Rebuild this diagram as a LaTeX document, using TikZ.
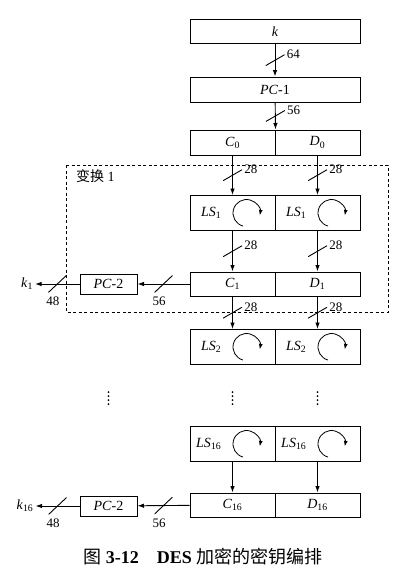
\documentclass[tikz,border=0pt]{standalone}
\usepackage{fontspec}
\setmainfont{Liberation Serif}
\newfontfamily\cjk{Noto Sans CJK SC}
\usetikzlibrary{arrows.meta,calc}

\newcommand{\isub}[2]{\textit{#1}\textsubscript{#2}}

\tikzset{
  blk/.style={draw,line width=1pt,inner sep=0pt,font=\fontsize{14}{16}\selectfont},
  wide/.style={blk,minimum width=170pt,minimum height=24pt},
  half/.style={blk,minimum width=85pt,minimum height=24pt},
  lsbox/.style={half,minimum height=35pt},
  pcbox/.style={blk,minimum width=57pt,minimum height=20pt},
  flow/.style={line width=0.9pt,-{Latex[length=6.5pt,width=4.5pt]}},
  num/.style={font=\fontsize{13}{15}\selectfont,inner sep=1.5pt},
  cut/.style={inner sep=0pt,
    path picture={\draw[-,line width=0.9pt] (path picture bounding box.south west) -- (path picture bounding box.north east);}},
  vcut/.style={cut,minimum width=19pt,minimum height=11pt,
    label={[num,anchor=west]north east:#1}},
  hcut/.style={cut,minimum width=18pt,minimum height=17pt,
    label={[num,anchor=north,xshift=5pt,yshift=-2pt]south west:#1}},
  spin/.style={line width=0.8pt,-{Latex[length=5.5pt,width=4pt]}},
  frame/.style={line width=0.9pt,dash pattern=on 3pt off 2.5pt}
}

\begin{document}
\begin{tikzpicture}[x=1pt,y=1pt]
  \useasboundingbox (0,0) rectangle (404,-581);

  % round 1 frame
  \draw[frame] (66,-165) rectangle (388,-312);
  \node[anchor=west,inner sep=0pt,font=\fontsize{14}{16}\selectfont] (round1) at (76,-176) {{\cjk 变换} 1};

  % key and PC-1
  \node[wide] (k) at (275,-31.5) {\textit{k}};
  \node[wide,minimum height=25pt] (pc1) at (275,-89.5) {\textit{PC}-1};
  \node[half,minimum height=25pt] (c0) at (232.5,-142.5) {\isub{C}{0}};
  \node[half,minimum height=25pt] (d0) at (317.5,-142.5) {\isub{D}{0}};

  % left shifts
  \foreach \row/\y/\s in {ls1/213/1,ls2/347/2,ls16/444/16}{
    \node[lsbox] (\row c) at (232.5,-\y) {};
    \node[lsbox] (\row d) at (317.5,-\y) {};
    \foreach \h in {c,d}{
      \node[anchor=east,inner sep=0pt,font=\fontsize{14}{16}\selectfont] (\row\h t) at ($(\row\h.west)+(32,0)$) {\isub{LS}{\s}};
      \draw[spin] ($(\row\h.west)+(57,0)+(255:13.5)$) arc[start angle=255,end angle=-10,radius=13.5];
    }
  }

  % C, D halves
  \node[half] (c1) at (232.5,-284) {\isub{C}{1}};
  \node[half] (d1) at (317.5,-284) {\isub{D}{1}};
  \node[half] (c16) at (232.5,-505) {\isub{C}{16}};
  \node[half] (d16) at (317.5,-505) {\isub{D}{16}};

  % PC-2 and subkeys
  \node[pcbox] (pc2a) at (108.5,-284) {\textit{PC}-2};
  \node[pcbox] (pc2b) at (108.5,-506) {\textit{PC}-2};
  \node[inner sep=2pt,font=\fontsize{14}{16}\selectfont] (k1) at (27,-284) {\isub{k}{1}};
  \node[inner sep=2pt,font=\fontsize{14}{16}\selectfont] (k16) at (25,-506) {\isub{k}{16}};

  % arrows
  \draw[flow] (k) -- node[vcut=64] {} (pc1);
  \draw[flow] (pc1) -- node[vcut=56] {} (c0.north east);
  \draw[flow] (c0) -- node[vcut=28] {} (ls1c);
  \draw[flow] (d0) -- node[vcut=28] {} (ls1d);
  \draw[flow] (ls1c) -- node[vcut=28] {} (c1);
  \draw[flow] (ls1d) -- node[vcut=28] {} (d1);
  \draw[flow] (c1) -- node[vcut=28] {} (ls2c);
  \draw[flow] (d1) -- node[vcut=28] {} (ls2d);
  \draw[flow] (ls16c) -- (c16);
  \draw[flow] (ls16d) -- (d16);
  \draw[flow] (c1) -- node[hcut=56] {} (pc2a);
  \draw[flow] (pc2a) -- node[hcut=48] {} (k1);
  \draw[flow] (c16) -- node[hcut=56] {} (pc2b);
  \draw[flow] (pc2b) -- node[hcut=48] {} (k16);

  % skipped rounds
  \foreach \x in {108.5,232.5,317.5}
    \foreach \y in {392,396,400,404}
      \fill (\x,-\y) circle (1);

  % caption
  \node[font=\fontsize{18}{21}\selectfont] (caption) at (203,-557) {{\cjk 图} \textbf{3-12}\quad\textbf{DES} {\cjk 加密的密钥编排}};
\end{tikzpicture}
\end{document}
